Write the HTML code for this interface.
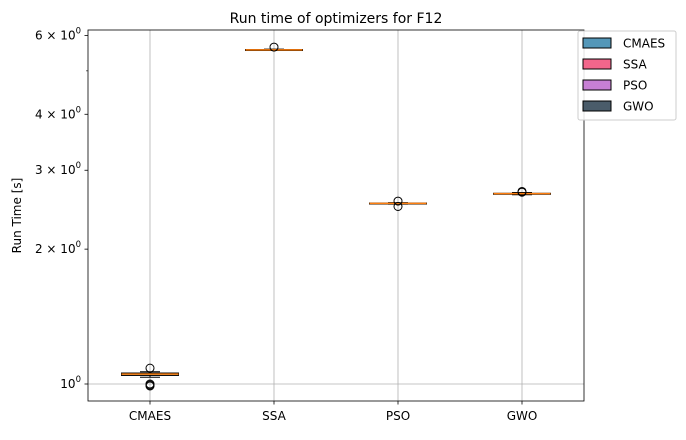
<!DOCTYPE html>
<html><head><meta charset="utf-8"><style>
body{margin:0;background:#fff;font-family:"Liberation Sans","DejaVu Sans",sans-serif;}
svg text{font-family:"DejaVu Sans","Liberation Sans",sans-serif;}
</style></head><body>
<svg id="chart" width="686" height="435" viewBox="0 0 686 435" xmlns="http://www.w3.org/2000/svg"></svg>
<script>
const categories=["CMAES","SSA","PSO","GWO"];
const colors=["#5497b8","#f2668b","#c77fd4","#4a5c6a"];
const q1=[1.045,5.56,2.525,2.655];
const medians=[1.052,5.57,2.53,2.66];
const q3=[1.058,5.58,2.535,2.665];
const whiskLo=[1.035,5.55,2.52,2.645];
const whiskHi=[1.065,5.59,2.54,2.675];
const outliers=[[1.085,1.0,0.995,0.99],[5.65],[2.56,2.49],[2.69,2.68]];
const yTicks=[1,2,3,4,6];
const yTickLabels=["10","2 × 10","3 × 10","4 × 10","6 × 10"];
const NS="http://www.w3.org/2000/svg";
const svg=document.getElementById('chart');
const L=88,R=584,T=30,B=401;
const PPD=448;
function y(v){return 384-Math.log10(v)*PPD;}
function x(i){return 150+i*124;}
function mk(tag,attrs,parent){const e=document.createElementNS(NS,tag);for(const k in attrs)e.setAttribute(k,attrs[k]);(parent||svg).appendChild(e);return e;}
categories.forEach((c,i)=>{const g=mk('line',{x1:x(i),x2:x(i),y1:T,y2:B,stroke:'#b0b0b0','stroke-width':0.8});

});
yTicks.forEach((v,i)=>{if(v===1){const g=mk('line',{x1:L,x2:R,y1:y(v),y2:y(v),stroke:'#b0b0b0','stroke-width':0.8});

}
const t=mk('line',{x1:L-3.5,x2:L,y1:y(v),y2:y(v),stroke:'#000','stroke-width':0.8});


const tx=mk('text',{x:L-7,y:y(v)+4,'text-anchor':'end','font-size':12});


tx.textContent=yTickLabels[i];
const sp=mk('tspan',{dy:-6,'font-size':8.5},tx);sp.textContent='0';});
[5].forEach(v=>{const t=mk('line',{x1:L-2,x2:L,y1:y(v),y2:y(v),stroke:'#000','stroke-width':0.6});

});
categories.forEach((c,i)=>{const cx=x(i),w=57,cw=20;
const g=mk('g',{});


mk('line',{x1:cx,x2:cx,y1:y(whiskHi[i]),y2:y(q3[i]),stroke:'#000'},g);
mk('line',{x1:cx,x2:cx,y1:y(q1[i]),y2:y(whiskLo[i]),stroke:'#000'},g);
mk('line',{x1:cx-cw/2,x2:cx+cw/2,y1:y(whiskHi[i]),y2:y(whiskHi[i]),stroke:'#000'},g);
mk('line',{x1:cx-cw/2,x2:cx+cw/2,y1:y(whiskLo[i]),y2:y(whiskLo[i]),stroke:'#000'},g);
mk('rect',{x:cx-w/2,y:y(q3[i]),width:w,height:Math.max(1,y(q1[i])-y(q3[i])),fill:colors[i],stroke:'#000'},g);
mk('line',{x1:cx-w/2,x2:cx+w/2,y1:y(medians[i]),y2:y(medians[i]),stroke:'#ff7f0e','stroke-width':1.5},g);
outliers[i].forEach(o=>{const c2=mk('circle',{cx:cx,cy:y(o),r:4,fill:'none',stroke:'#000'},g);

});
const t=mk('line',{x1:cx,x2:cx,y1:B,y2:B+3.5,stroke:'#000','stroke-width':0.8});


const tx=mk('text',{x:cx,y:B+19,'text-anchor':'middle','font-size':12});


tx.textContent=c;});
const fr=mk('rect',{x:L,y:T,width:R-L,height:B-T,fill:'none',stroke:'#000','stroke-width':0.8});


const ti=mk('text',{x:(L+R)/2,y:23,'text-anchor':'middle','font-size':14});


ti.textContent='Run time of optimizers for F12';
const yl=mk('text',{x:21,y:(T+B)/2,'text-anchor':'middle','font-size':12,transform:'rotate(-90 21 '+((T+B)/2)+')'});


yl.textContent='Run Time [s]';
const lg=mk('g',{});


mk('rect',{x:578,y:31,width:98,height:89,rx:2,fill:'#fff','fill-opacity':0.85,stroke:'#ccc'},lg);
categories.forEach((c,i)=>{const yy=43+i*21;
const e=mk('g',{},lg);


mk('rect',{x:583,y:yy-5,width:28,height:10,fill:colors[i],stroke:'#000'},e);
const t=mk('text',{x:623,y:yy+4.5,'font-size':12},e);t.textContent=c;});
</script>
</body></html>
